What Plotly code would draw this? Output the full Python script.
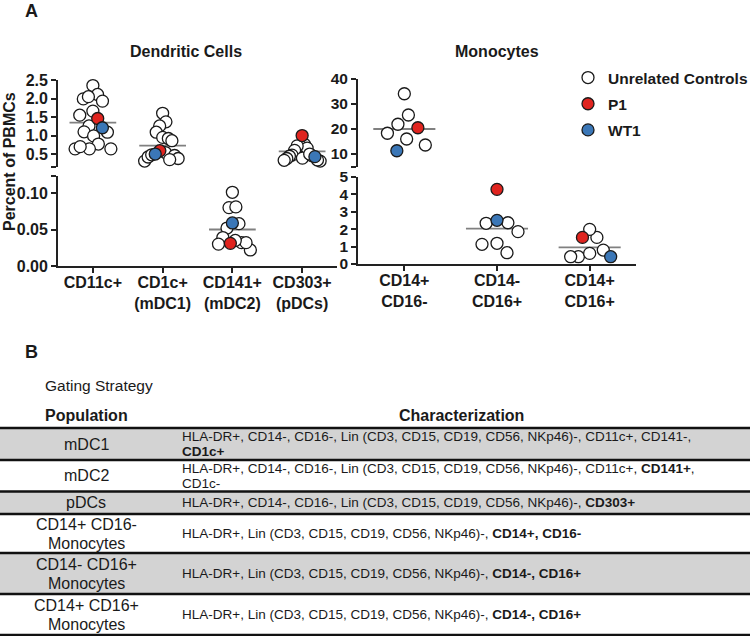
import math
import plotly.graph_objects as go

W, H = 750, 636
FONT = "Liberation Sans, Arial, Helvetica, sans-serif"
INK = "#1a1a1a"

# ---------------- data ----------------
dc_labels = ["CD11c+", "CD1c+<br>(mDC1)", "CD141+<br>(mDC2)", "CD303+<br>(pDCs)"]
mono_labels = ["CD14+<br>CD16-", "CD14-<br>CD16+", "CD14+<br>CD16+"]

dc_controls = [
    [2.35, 2.11, 1.99, 1.93, 2.05, 1.66, 1.55, 1.26, 1.09, 1.10, 0.99, 0.77, 0.64, 0.64, 0.64, 0.70],
    [1.60, 1.37, 1.26, 1.09, 0.95, 0.92, 0.86, 0.54, 0.46, 0.38, 0.31, 0.35, 0.42, 0.48],
    [0.101, 0.080, 0.081, 0.058, 0.052, 0.039, 0.032, 0.022, 0.030, 0.032, 0.035],
    [0.76, 0.72, 0.66, 0.72, 0.60, 0.47, 0.44, 0.38, 0.33, 0.31, 0.34, 0.39, 0.45, 0.50],
]
dc_p1 = [1.46, 0.59, 0.031, 1.00]
dc_wt1 = [1.21, 0.50, 0.059, 0.43]
dc_median = [1.35, 0.73, 0.050, 0.57]

mono_controls = [
    [34.1, 25.6, 21.9, 18.3, 16.0, 13.6],
    [2.34, 2.37, 1.86, 1.19, 1.13, 0.65],
    [1.53, 1.99, 0.80, 0.42, 0.42, 0.61],
]
mono_p1 = [20.5, 4.29, 1.53]
mono_wt1 = [11.3, 2.51, 0.42]
mono_median = [20.0, 2.03, 0.96]

series_names = ["Unrelated Controls", "P1", "WT1"]
series_fill = ["#ffffff", "#e0241f", "#3b77b7"]

table_population = ["mDC1", "mDC2", "pDCs",
                    "CD14+ CD16-<br>Monocytes", "CD14- CD16+<br>Monocytes", "CD14+ CD16+<br>Monocytes"]
table_characterization = [
    "HLA-DR+, CD14-, CD16-, Lin (CD3, CD15, CD19, CD56, NKp46)-, CD11c+, CD141-,<br><b>CD1c+</b>",
    "HLA-DR+, CD14-, CD16-, Lin (CD3, CD15, CD19, CD56, NKp46)-, CD11c+, <b>CD141+</b>,<br>CD1c-",
    "HLA-DR+, CD14-, CD16-, Lin (CD3, CD15, CD19, CD56, NKp46)-, <b>CD303+</b>",
    "HLA-DR+, Lin (CD3, CD15, CD19, CD56, NKp46)-, <b>CD14+, CD16-</b>",
    "HLA-DR+, Lin (CD3, CD15, CD19, CD56, NKp46)-, <b>CD14-, CD16+</b>",
    "HLA-DR+, Lin (CD3, CD15, CD19, CD56, NKp46)-, <b>CD14-, CD16+</b>",
]

# ---------------- layout geometry (pixels) ----------------
def px(x):
    return x / W

def py(y):
    return 1 - y / H

# segments: (top_px, bottom_px, lo, hi, xaxis, yaxis)
SEG = {
    "dc_up": (80, 167, 0.15, 2.5, "x", "y"),
    "dc_lo": (176, 266, 0.0, 0.1233, "x", "y2"),
    "mo_up": (79, 166.5, 5, 40, "x2", "y3"),
    "mo_lo": (177, 264, 0.0, 5, "x2", "y4"),
}
dc_seg = ["dc_up", "dc_up", "dc_lo", "dc_up"]
mono_seg = ["mo_up", "mo_lo", "mo_lo"]
DC_X = (58, 337, -0.5, 3.5)
MO_X = (358, 636, -0.5, 2.5)


def ypix(v, seg):
    top, bot, lo, hi = SEG[seg][:4]
    return top + (hi - v) / (hi - lo) * (bot - top)


def swarm(ys, D=12.5, vscale=0.55, maxhalf=24.0):
    """Greedy beeswarm (elliptical exclusion) -> horizontal pixel offsets."""
    n = len(ys)
    order = sorted(range(n), key=lambda i: ys[i])
    xs = [0.0] * n
    placed = []
    for i in order:
        y = ys[i]
        iv = []
        for xj, yj in placed:
            dy = abs(y - yj) * vscale
            if dy < D:
                w = math.sqrt(D * D - dy * dy)
                iv.append((xj - w, xj + w))
        cands = [0.0] + [a for a, b in iv] + [b for a, b in iv]
        cands.sort(key=lambda c: (round(abs(c), 6), -c))
        for c in cands:
            if all(not (a + 1e-6 < c < b - 1e-6) for a, b in iv):
                xs[i] = c
                break
        placed.append((xs[i], y))
    m = max(abs(x) for x in xs) if xs else 0
    if m > maxhalf:
        xs = [x * maxhalf / m for x in xs]
    return xs


pts = {}  # (seg, series) -> ([x],[y])
med = {}  # seg -> ([x],[y])


def add_panel(controls, p1, wt1, medians, segs, xgeom, maxhalf):
    ppu = (xgeom[1] - xgeom[0]) / (xgeom[3] - xgeom[2])
    for i, seg in enumerate(segs):
        vals = [(v, 0) for v in controls[i]] + [(p1[i], 1), (wt1[i], 2)]
        ys = [ypix(v, seg) for v, _ in vals]
        offs = swarm(ys, maxhalf=maxhalf)
        for (v, s), o in zip(vals, offs):
            lst = pts.setdefault((seg, s), ([], []))
            lst[0].append(i + o / ppu)
            lst[1].append(v)
        m = med.setdefault(seg, ([], []))
        m[0].extend([i - 0.335, i + 0.335, None])
        m[1].extend([medians[i], medians[i], None])


add_panel(dc_controls, dc_p1, dc_wt1, dc_median, dc_seg, DC_X, 18)
add_panel(mono_controls, mono_p1, mono_wt1, mono_median, mono_seg, MO_X, 21)

fig = go.Figure()
for seg, (mx, my) in med.items():
    fig.add_trace(go.Scatter(x=mx, y=my, mode="lines", xaxis=SEG[seg][4], yaxis=SEG[seg][5],
                             line=dict(color="#808080", width=1.8), showlegend=False,
                             hoverinfo="skip"))

shown = set()
for s in range(3):
    for seg in SEG:
        if (seg, s) not in pts:
            continue
        xs, ys = pts[(seg, s)]
        fig.add_trace(go.Scatter(
            x=xs, y=ys, mode="markers", xaxis=SEG[seg][4], yaxis=SEG[seg][5],
            name=series_names[s], legendgroup=series_names[s],
            showlegend=s not in shown, cliponaxis=False,
            marker=dict(size=12, color=series_fill[s], line=dict(color=INK, width=1.3)),
        ))
        shown.add(s)

axis_common = dict(showline=True, linecolor="#222", linewidth=1.8, ticks="outside",
                   ticklen=5, tickwidth=1.8, tickcolor="#222", showgrid=False,
                   zeroline=False, fixedrange=True)
tickf = dict(family=FONT, size=16, color=INK, weight="bold")

layout = dict(
    width=W, height=H, margin=dict(l=0, r=0, t=0, b=0, autoexpand=False),
    paper_bgcolor="white", plot_bgcolor="rgba(0,0,0,0)",
    font=dict(family=FONT, color=INK),
    xaxis=dict(domain=[px(DC_X[0]), px(DC_X[1])], range=[DC_X[2], DC_X[3]], anchor="y2",
               tickvals=list(range(len(dc_labels))), ticktext=dc_labels, tickfont=tickf,
               ticklabelstandoff=-4, **axis_common),
    xaxis2=dict(domain=[px(MO_X[0]), px(MO_X[1])], range=[MO_X[2], MO_X[3]], anchor="y4",
                tickvals=list(range(len(mono_labels))), ticktext=mono_labels, tickfont=tickf,
                ticklabelstandoff=-4, **axis_common),
    yaxis=dict(domain=[py(167), py(80)], range=[0.15, 2.5], anchor="x",
               tickvals=[0.15, 0.5, 1.0, 1.5, 2.0, 2.5], ticktext=["", "0.5", "1.0", "1.5", "2.0", "2.5"],
               tickfont=tickf, **axis_common),
    yaxis2=dict(domain=[py(266), py(176)], range=[0, 0.1233], anchor="x",
                tickvals=[0, 0.05, 0.10, 0.1233], ticktext=["0.00", "0.05", "0.10", ""],
                tickfont=tickf, **axis_common),
    yaxis3=dict(domain=[py(166.5), py(79)], range=[5, 40], anchor="x2",
                tickvals=[5, 10, 20, 30, 40], ticktext=["", "10", "20", "30", "40"],
                tickfont=dict(tickf, size=15.5), **axis_common),
    yaxis4=dict(domain=[py(264), py(177)], range=[0, 5], anchor="x2",
                tickvals=[0, 1, 2, 3, 4, 5], ticktext=["0", "1", "2", "3", "4", "5"],
                tickfont=dict(tickf, size=15.5), **axis_common),
    legend=dict(x=px(568), y=py(61), xanchor="left", yanchor="top",
                font=dict(family=FONT, size=15.5, color=INK, weight="bold"),
                bgcolor="rgba(0,0,0,0)", tracegroupgap=3, itemclick=False),
)
fig.update_layout(**layout)

ann = []


def text(x, y, t, size, bold=False, xanchor="center", angle=0, align="center"):
    ann.append(dict(x=px(x), y=py(y), xref="paper", yref="paper", text=t, showarrow=False,
                    xanchor=xanchor, yanchor="middle", textangle=angle, align=align,
                    font=dict(family=FONT, size=size, color=INK, weight="bold" if bold else "normal")))


def lines(x, cy, t, size, gap, xanchor):
    parts = t.split("<br>")
    n = len(parts)
    for k, p in enumerate(parts):
        text(x, cy + (k - (n - 1) / 2) * gap, p, size, False, xanchor,
             align=xanchor if xanchor != "center" else "center")


text(23, 11, "A", 18, True, "left")
text(23, 352, "B", 18, True, "left")
text(186, 51, "Dendritic Cells", 16, True)
text(497, 51, "Monocytes", 16, True)
text(9, 162, "Percent of PBMCs", 16, True, angle=-90)
text(43, 385, "Gating Strategy", 15.5, False, "left")
text(86, 415, "Population", 16, True)
text(461, 415, "Characterization", 16, True)

bounds = [428, 460, 491.5, 514, 553, 594, 635]
shapes = []
for r in range(len(table_population)):
    top, bot = bounds[r], bounds[r + 1]
    if r % 2 == 0:
        shapes.append(dict(type="rect", xref="paper", yref="paper", x0=0, x1=1, y0=py(bot), y1=py(top),
                           fillcolor="#d3d3d3", line=dict(width=0), layer="below"))
    cy = (top + bot) / 2
    lines(86, cy, table_population[r], 16, 19, "center")
    lines(180, cy, table_characterization[r], 13.5, 15, "left")
for b in bounds:
    shapes.append(dict(type="line", xref="paper", yref="paper", x0=0, x1=1, y0=py(b), y1=py(b),
                       line=dict(color="#111", width=2.5)))

fig.update_layout(annotations=ann, shapes=shapes)
fig.write_html("out.html", config={"displayModeBar": False},
               post_script="document.body.style.margin='0px';document.body.style.padding='0px';")
